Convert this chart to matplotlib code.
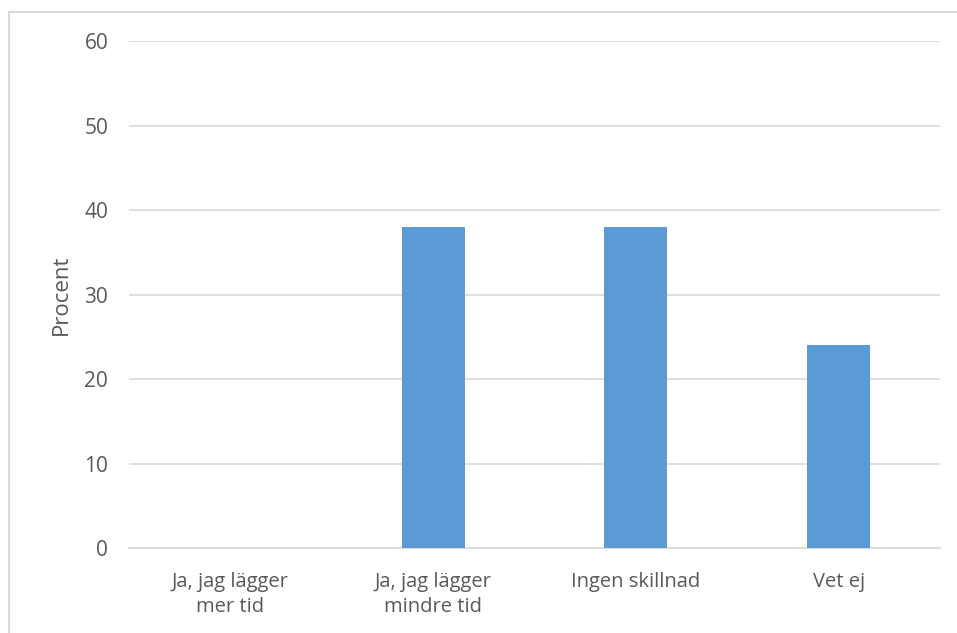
import matplotlib
matplotlib.use("Agg")
import matplotlib.pyplot as plt
from matplotlib.patches import Rectangle

categories = ["Ja, jag lägger\nmer tid", "Ja, jag lägger\nmindre tid", "Ingen skillnad", "Vet ej"]
values = [0, 38, 38, 24]
yticks = [0, 10, 20, 30, 40, 50, 60]

plt.rcParams['font.family'] = ['Open Sans', 'DejaVu Sans']
txt = '#595959'

fig = plt.figure(figsize=(9.57, 6.33), dpi=100)
ax = fig.add_axes([129/957, 1-548/633, (940-129)/957, (548-41)/633])

x = list(range(len(categories)))
ax.bar(x, values, width=0.31, color='#5b9bd5', zorder=3)
ax.set_xlim(-0.5, len(categories)-0.5)
ax.set_ylim(0, 60)
ax.set_yticks(yticks)
ax.set_xticks(x)
ax.set_xticklabels(categories, fontsize=14.5, color=txt, linespacing=1.35)
ax.tick_params(axis='y', labelsize=15, labelcolor=txt, length=0, pad=15)
ax.tick_params(axis='x', length=0, pad=17)
ax.grid(axis='y', color='#d9d9d9', linewidth=1.2, zorder=0)
for s in ['top', 'right', 'left']:
    ax.spines[s].set_visible(False)
ax.spines['bottom'].set_color('#d9d9d9')
ax.spines['bottom'].set_linewidth(1.2)
ax.set_ylabel('Procent', fontsize=16, color=txt, labelpad=9)

fig.patches.append(Rectangle((9/957, -0.1), 1.1, 1-12/633+0.1, transform=fig.transFigure,
                             fill=False, edgecolor='#d9d9d9', linewidth=1.5))

fig.savefig('out.png', dpi=100)
